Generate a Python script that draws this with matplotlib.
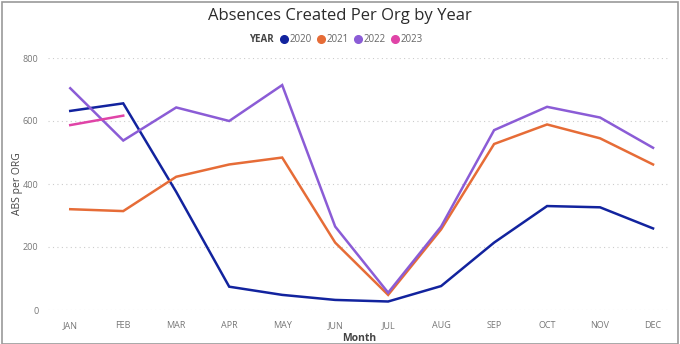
import matplotlib.pyplot as plt
from matplotlib.lines import Line2D
from matplotlib.patches import Rectangle

# 月份与各年份数据
months = ["JAN", "FEB", "MAR", "APR", "MAY", "JUN", "JUL", "AUG", "SEP", "OCT", "NOV", "DEC"]
years = ["2020", "2021", "2022", "2023"]
abs_2020 = [632, 656, 375, 74, 48, 32, 27, 76, 214, 330, 326, 259]
abs_2021 = [320, 314, 423, 462, 484, 214, 48, 256, 527, 589, 545, 462]
abs_2022 = [704, 538, 643, 600, 714, 265, 55, 265, 571, 645, 611, 515]
abs_2023 = [587, 617]
yticks = [0, 200, 400, 600, 800]

colors = ["#12239E", "#E66C37", "#8B5CD6", "#E044A7"]
series = [abs_2020, abs_2021, abs_2022, abs_2023]

plt.rcParams['font.family'] = ['Open Sans', 'DejaVu Sans']

fig = plt.figure(figsize=(6.8, 3.44), dpi=100)
ax = fig.add_axes([48 / 680, 34 / 344, 622 / 680, 252 / 344])

for vals, c, y in zip(series, colors, years):
    ax.plot(range(len(vals)), vals, color=c, lw=1.8, label=y, clip_on=False,
            solid_joinstyle='miter')

ax.set_xlim(-0.42, 11.32)
ax.set_ylim(0, 800)
ax.set_xticks(range(12))
ax.set_xticklabels(months)
ax.set_yticks(yticks)
ax.tick_params(length=0, labelsize=6.5, colors="#777777", pad=8)
ax.tick_params(axis='y', pad=7)
for s in ax.spines.values():
    s.set_visible(False)
ax.grid(axis='y', color="#cccccc", linestyle=(0, (1, 3)), lw=0.8)
ax.set_axisbelow(True)

ax.set_xlabel("Month", fontsize=7.5, color="#444444", fontweight='bold', labelpad=2)
ax.set_ylabel("ABS per ORG", fontsize=7.5, color="#444444")
ax.yaxis.set_label_coords(-0.04, 0.5)

fig.text(0.5, 0.953, "Absences Created Per Org by Year", ha='center', va='center',
         fontsize=12, color="#2b2b2b", fontweight='medium')

# 图例
fig.text(249 / 680, 0.884, "YEAR", ha='left', va='center', fontsize=7,
         fontweight='bold', color="#444444")
handles = [Line2D([], [], marker='o', lw=0, color=c, markersize=5.5) for c in colors]
leg = fig.legend(handles, years, loc='center left', bbox_to_anchor=(281 / 680, 0.884),
                 ncol=4, frameon=False, fontsize=7, handlelength=0.7,
                 handletextpad=0.2, columnspacing=0.6, borderpad=0, borderaxespad=0)
for t in leg.get_texts():
    t.set_color("#666666")

fig.patches.append(Rectangle((0.003, 0.0), 0.994, 0.994, transform=fig.transFigure,
                             fill=False, edgecolor="#999999", lw=1.2))

fig.savefig("out.png", dpi=100)
